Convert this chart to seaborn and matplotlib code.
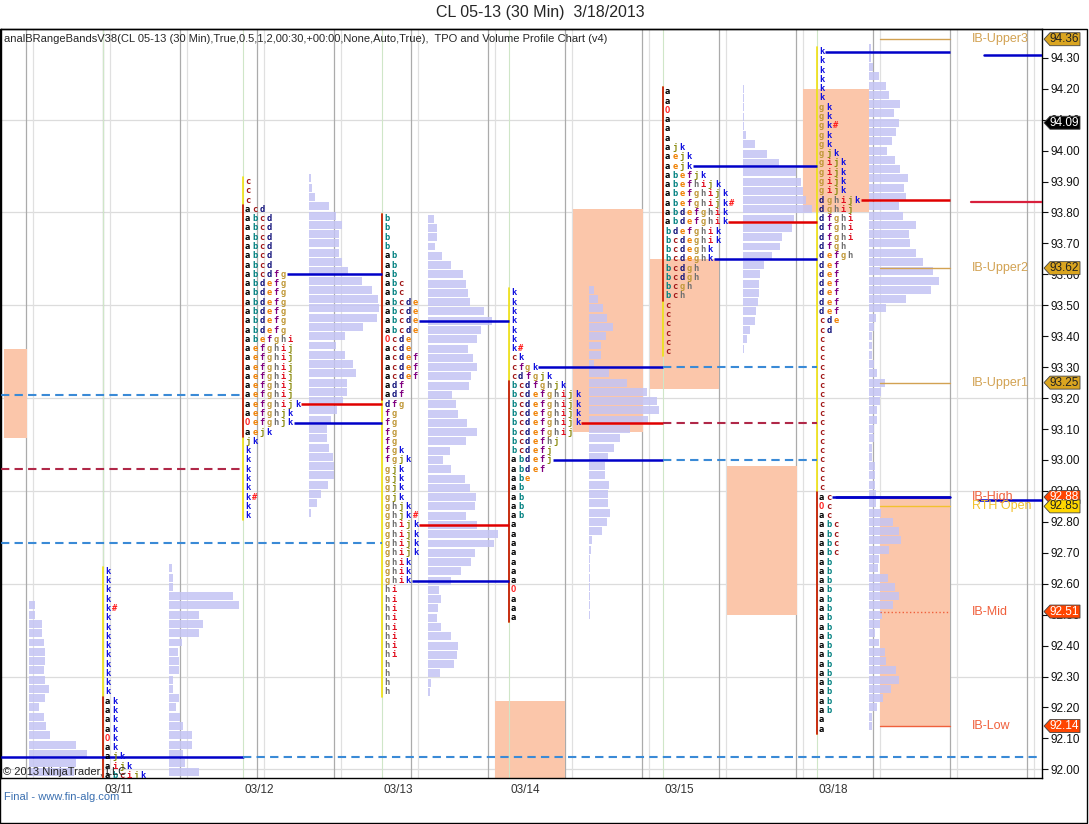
import numpy as np
import matplotlib
matplotlib.use("Agg")
import matplotlib.pyplot as plt
import seaborn as sns
from matplotlib.patches import Rectangle, Polygon

# =========================================================
# DATA
# =========================================================
TITLE = "CL 05-13 (30 Min)  3/18/2013"
INDICATOR = ("analBRangeBandsV38(CL 05-13 (30 Min),True,0.5,1,2,00:30,+00:00,"
             "None,Auto,True),  TPO and Volume Profile Chart (v4)")
TICK = 0.03

session_labels = ["03/11", "03/12", "03/13", "03/14", "03/15", "03/18"]
session_x = [102.7, 242.7, 382.0, 508.5, 662.7, 816.7]
tpo_top = [92.64, 93.90, 93.78, 93.54, 94.19, 94.32]

tpo_0311 = ["k", "k", "k", "k", "k#", "k", "k", "k", "k", "k", "k", "k", "k", "k",
            "ak", "ak", "ak", "ak", "Ok", "ak", "ajk", "aijk", "abcijk"]
tpo_0312 = ["c", "c", "c", "acd"] + ["abcd"] * 6 + ["abcdfg"] + ["abdefg"] * 6 + \
           ["abefghi"] + ["aefghij"] * 6 + \
           ["aefghijk", "aefghjk", "Oefghjk", "aejk", "jk",
            "k", "k", "k", "k", "k", "k#", "k", "k"]
tpo_0313 = ["b"] * 4 + ["ab"] * 3 + ["abc"] * 2 + ["abcde"] * 4 + \
           ["Ocde", "acde", "acdef", "acdef", "acdef", "adf", "adf", "dfg"] + \
           ["fg"] * 4 + ["fgk", "fgjk"] + ["gjk"] * 4 + ["ghjk", "ghjk#"] + \
           ["ghijk"] * 4 + ["ghik"] * 3 + ["hi"] * 8 + ["h"] * 4
tpo_0314 = ["k"] * 6 + ["k#", "ck", "cfgk", "cdfgjk", "bcdfghjk"] + \
           ["bcdefghijk"] * 4 + \
           ["bcdefghij", "bcdefhj", "bcdefj", "abdefj", "abdef", "abe"] + \
           ["ab"] * 4 + ["a"] * 7 + ["O", "a", "a", "a"]
tpo_0315 = ["a", "a", "O", "a", "a", "a", "ajk", "aejk", "aejk", "abefjk",
            "abefhijk", "abefghijk", "abefghijk#", "abdefghik", "abdefghik",
            "bdefghik", "bcdeghik", "bcdeghk", "bcdeghk", "bcdgh", "bcdgh",
            "bcgh", "bch"] + ["c"] * 6
tpo_0318 = ["k"] * 6 + ["gk", "gk", "gk#", "gk", "gk", "gjk"] + ["gijk"] * 4 + \
           ["dghijk", "dghij", "dfghi", "dfghi", "dfghi", "dfgh", "defgh"] + \
           ["def"] * 6 + ["cde", "cd"] + ["c"] * 17 + ["ac", "Oc", "ac"] + \
           ["abc"] * 4 + ["ab"] * 17 + ["a", "a"]
tpo_rows = [tpo_0311, tpo_0312, tpo_0313, tpo_0314, tpo_0315, tpo_0318]

# value area rows (1-based): VAH, POC, VAL and where the solid lines stop
va_rows = [None, (11, 25, 27), (12, 34, 40), (9, 15, 19), (9, 15, 19), (1, 17, 49)]
va_end = [None, 382.0, 508.5, 662.7, 816.7, 950.0]

# volume profiles (relative volume per price row)
profile_x = [29.0, 169.0, 309.0, 428.0, 589.3, 743.3, 869.3]
profile_top = [92.53, 92.65, 93.91, 93.78, 93.55, 94.20, 94.33]
vol_0308 = [6, 6, 13, 13, 15, 16, 16, 15, 16, 20, 16, 10, 15, 17, 21, 47, 58, 47, 45]
vol_0311 = [3, 4, 4, 64, 70, 30, 34, 30, 13, 9, 10, 10, 4, 4, 10, 7, 11, 14, 23, 23,
            14, 16, 30]
vol_0312 = [2, 3, 6, 20, 27, 33, 30, 30, 30, 33, 39, 53, 63, 69, 70, 68, 54, 36, 27,
            36, 44, 47, 38, 38, 34, 28, 22, 18, 18, 20, 24, 25, 25, 19, 12, 8, 2]
vol_0313 = [6, 9, 9, 7, 14, 23, 35, 38, 40, 42, 56, 64, 53, 49, 40, 45, 49, 43, 41,
            24, 28, 30, 39, 49, 38, 22, 15, 23, 37, 42, 48, 47, 38, 49, 70, 66, 47,
            43, 33, 23, 11, 13, 10, 9, 13, 23, 30, 29, 26, 12, 3, 2]
vol_0314 = [5, 9, 14, 18, 24, 17, 12, 12, 5, 20, 38, 58, 68, 70, 59, 41, 31, 25, 19,
            16, 16, 20, 19, 19, 21, 18, 13, 3, 2, 0.5, 0.5, 0.5, 0.5, 0.5, 0.5, 0.5]
vol_0315 = [0.5, 0.5, 0.5, 0.5, 0.5, 3, 12, 24, 36, 53, 58, 60, 63, 69, 51, 49, 39,
            37, 29, 21, 17, 16, 16, 15, 13, 12, 7, 4, 1]
vol_0318 = [2, 2, 4, 10, 17, 20, 31, 25, 30, 27, 23, 18, 26, 31, 39, 35, 37, 30, 34,
            47, 40, 41, 47, 54, 64, 70, 62, 37, 17, 7, 5, 3, 3, 3, 5, 8, 16, 12, 11,
            8, 8, 5, 5, 3, 3, 6, 6, 6, 7, 7, 12, 24, 30, 32, 20, 10, 9, 19, 26, 30,
            24, 13, 11, 6, 10, 16, 17, 27, 30, 22, 14, 8, 3, 3]
profiles = [vol_0308, vol_0311, vol_0312, vol_0313, vol_0314, vol_0315, vol_0318]

# extended (naked) levels
ext_price = [93.21, 92.97, 92.73, 92.04, 92.04, 93.30, 93.12, 93.00, 94.31, 93.835, 92.87]
ext_x0 = [1, 1, 1, 1, 242.7, 662.7, 662.7, 662.7, 984, 971, 978]
ext_x1 = [242.7, 242.7, 382.0, 242.7, 1042, 816.7, 816.7, 816.7, 1042, 1042, 1042]
ext_kind = ["va_d", "poc_d", "va_d", "va", "va_d", "va_d", "poc_d", "va_d",
            "va", "poc2", "va"]

# initial balance boxes
ib_box_x0 = [4, 495, 572.7, 650, 726.7, 803.3, 880]
ib_box_x1 = [27, 565, 642.7, 719.3, 796.7, 869.3, 950]
ib_box_low = [93.07, 91.90, 93.09, 93.23, 92.50, 93.80, 92.14]
ib_box_high = [93.36, 92.22, 93.81, 93.65, 92.98, 94.20, 92.88]

# today's IB levels
ib_names = ["IB-Upper3", "IB-Upper2", "IB-Upper1", "IB-High", "RTH Open", "IB-Mid", "IB-Low"]
ib_prices = [94.36, 93.62, 93.25, 92.88, 92.85, 92.51, 92.14]
ib_colors = ["#d2a252", "#d2a252", "#d2a252", "#f0603c", "#f2c12e", "#f0603c", "#f0603c"]
ib_styles = ["-", "-", "-", "-", "-", ":", "-"]

# price flags on the right axis
flag_prices = [94.36, 94.09, 93.62, 93.25, 92.88, 92.85, 92.51, 92.14]
flag_face = ["#daa520", "#000000", "#daa520", "#daa520", "#ff4500", "#ffd700",
             "#ff4500", "#ff4500"]
flag_text = ["#222222", "white", "#222222", "#222222", "white", "#222222",
             "white", "white"]

price_ticks = np.round(np.arange(92.0, 94.31, 0.1), 2)

LETTER_COLORS = {
    "a": "#000000", "b": "#008080", "c": "#a01818", "d": "#10107a",
    "e": "#f08000", "f": "#800080", "g": "#c09838", "h": "#707070",
    "i": "#e01020", "j": "#8c8c10", "k": "#1010e0", "O": "#ff2020", "#": "#ff2020",
}

# =========================================================
# FIGURE
# =========================================================
sns.set_theme(style="white")
plt.rcParams["font.family"] = ["Liberation Sans", "DejaVu Sans"]

fig = plt.figure(figsize=(10.89, 8.24), dpi=100)
ax = fig.add_axes([1 / 1089, 46 / 824, 1041 / 1089, 749 / 824])
ax.set_xlim(1, 1042)
ax.set_ylim(91.972, 94.393)
ax.set_facecolor("white")

# grid
for p in np.arange(92.0, 94.2, 0.3):
    ax.axhline(p, color="#dcdcdc", lw=0.9, zorder=0.5)
for gx in np.arange(26, 1042, 77):
    ax.axvline(gx, color="#ababab", lw=0.9, zorder=0.5)
    ax.axvline(gx + 7, color="#e0e0e0", lw=0.9, zorder=0.5)

# IB boxes
for x0, x1, lo, hi in zip(ib_box_x0, ib_box_x1, ib_box_low, ib_box_high):
    ax.add_patch(Rectangle((x0, lo), x1 - x0, hi - lo, facecolor="#fbc6aa",
                           edgecolor="none", zorder=1))

# volume profiles
for bx, top, vols in zip(profile_x, profile_top, profiles):
    prices = top - TICK * np.arange(len(vols))
    ax.barh(prices, vols, left=bx, height=TICK * 0.86, color="#c4c4f4",
            alpha=0.85, edgecolor="none", zorder=2)

# session lines
for sx, top, rows in zip(session_x, tpo_top, tpo_rows):
    ax.axvline(sx, color="#cfe6c8", lw=0.8, zorder=1.5)
    bottom = top - (len(rows) - 1) * TICK
    ax.plot([sx, sx], [bottom - TICK / 2, top + TICK / 2], color="#f0e010",
            lw=1.2, zorder=2.6)
    ib_p = [top - i * TICK for i, r in enumerate(rows) if set(r) & set("abO")]
    ax.plot([sx, sx], [min(ib_p) - TICK / 2, max(ib_p) + TICK / 2],
            color="#c01010", lw=1.2, zorder=2.7)

# TPO letters
LX0, LSTEP = 5.0, 7.1
for sx, top, rows in zip(session_x, tpo_top, tpo_rows):
    for i, row in enumerate(rows):
        for j, ch in enumerate(row):
            ax.text(sx + LX0 + j * LSTEP, top - i * TICK, ch,
                    color=LETTER_COLORS[ch], fontsize=6.3, fontweight="bold",
                    family="DejaVu Sans Mono", ha="center", va="center",
                    clip_on=True, zorder=4)

# value area lines
for sx, top, rows, va, x_end in zip(session_x, tpo_top, tpo_rows, va_rows, va_end):
    if va is None:
        continue
    for r, col in zip(va, ["#0000c8", "#e00000", "#0000c8"]):
        n = len(rows[r - 1].replace("#", ""))
        x_start = sx + LX0 + (n - 0.5) * LSTEP
        ax.plot([x_start, x_end], [top - (r - 1) * TICK] * 2, color=col,
                lw=1.8, zorder=3, solid_capstyle="butt")

ext_style = {
    "va": dict(color="#0000c8", ls="-", lw=1.8),
    "va_d": dict(color="#3a8ad6", ls=(0, (4, 2.5)), lw=1.5),
    "poc_d": dict(color="#b02848", ls=(0, (4, 2.5)), lw=1.5),
    "poc2": dict(color="#d8203c", ls="-", lw=1.6),
}
for p, x0, x1, kind in zip(ext_price, ext_x0, ext_x1, ext_kind):
    ax.plot([x0, x1], [p, p], zorder=3, **ext_style[kind])

# IB levels
for name, p, c, st in zip(ib_names, ib_prices, ib_colors, ib_styles):
    ax.plot([880, 950], [p, p], color=c, ls=st, lw=1.0, zorder=3)
    ax.text(972, p, name, color=c, fontsize=9, ha="left", va="center", zorder=5)
ax.plot([836, 950], [92.88, 92.88], color="#0000c8", lw=1.8, zorder=3.1)

# price flags
for p, fc, tc in zip(flag_prices, flag_face, flag_text):
    h = 0.021
    ax.add_patch(Polygon([(1044, p), (1050, p + h), (1080, p + h), (1080, p - h),
                          (1050, p - h)], closed=True, facecolor=fc,
                         edgecolor="#444444", lw=0.6, clip_on=False, zorder=10))
    ax.text(1064, p, f"{p:.2f}", color=tc, fontsize=8.5, ha="center",
            va="center", clip_on=False, zorder=11)

# axes
ax.yaxis.tick_right()
ax.set_yticks(price_ticks)
ax.set_yticklabels([f"{p:.2f}" for p in price_ticks])
ax.tick_params(axis="y", which="both", direction="out", length=4, width=0.8,
               labelsize=8.5, pad=2, colors="#111111", right=True, left=False)
ax.set_xticks([sx + 2 for sx in session_x])
ax.set_xticklabels(session_labels, ha="left")
ax.tick_params(axis="x", length=0, labelsize=8.5, pad=4, labelcolor="#333333")
for sp in ax.spines.values():
    sp.set_visible(True)
    sp.set_color("black")
    sp.set_linewidth(1.0)
ax.grid(False)

# texts
fig.text(540 / 1089, 1 - 13 / 824, TITLE, ha="center", va="center", fontsize=11.5)
fig.text(4 / 1089, 1 - 39 / 824, INDICATOR, ha="left", va="center", fontsize=8)
fig.text(3 / 1089, 1 - 772 / 824, "\u00a9 2013 NinjaTrader, LLC", ha="left",
         va="center", fontsize=8, color="#222222")
fig.text(4 / 1089, 1 - 797 / 824, "Final - www.fin-alg.com", ha="left",
         va="center", fontsize=8, color="#3a6fb0")
fig.patches.append(Rectangle((0, 1 / 824), 1087 / 1089, 794 / 824, fill=False,
                             edgecolor="black", lw=1.0,
                             transform=fig.transFigure, figure=fig))

fig.savefig("out.png", dpi=100)
